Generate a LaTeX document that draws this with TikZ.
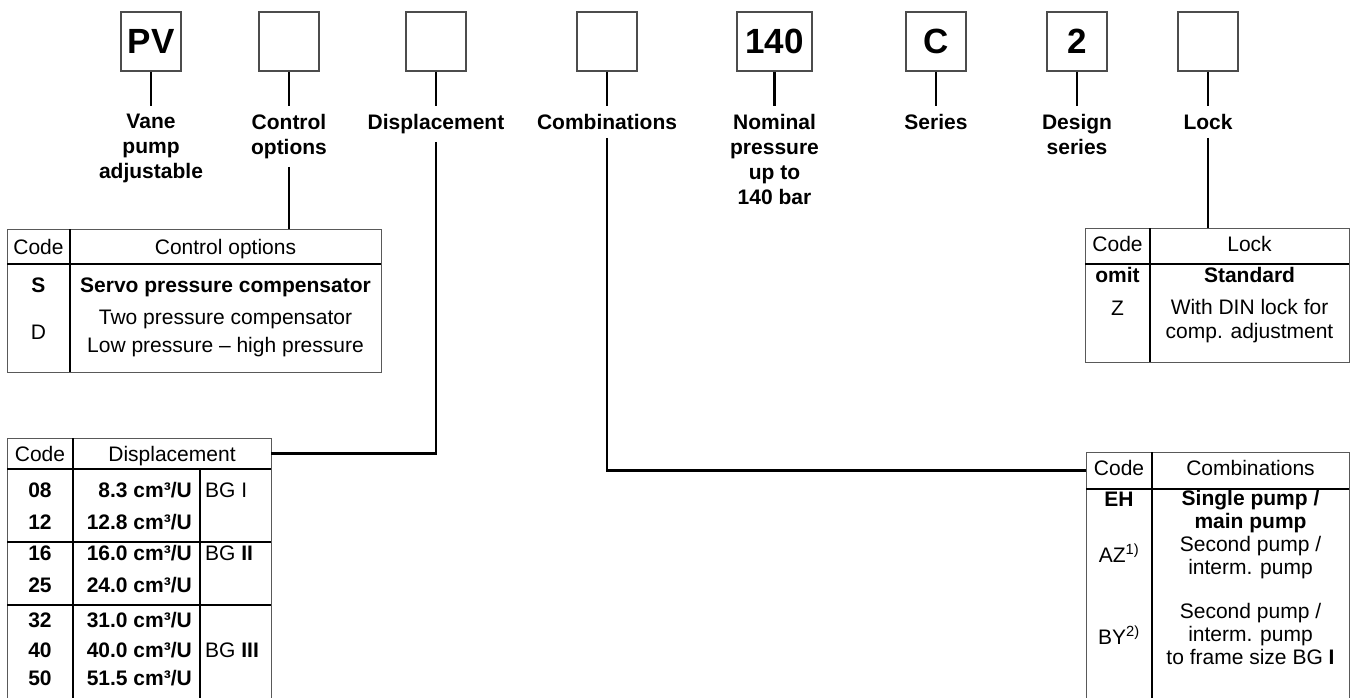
\documentclass[tikz,border=0pt]{standalone}
\usepackage{fontspec}
\setmainfont{Liberation Sans}

\tikzset{
  codebox/.style={draw=black!70, line width=1.3pt, minimum width=60pt, minimum height=59pt,
    inner sep=0pt, font=\bfseries\fontsize{35}{35}\selectfont},
  caption/.style={anchor=north, align=center, inner xsep=0pt, inner ysep=8pt,
    font=\bfseries\fontsize{21}{25}\selectfont},
  link/.style={line width=2.3pt},
  frame/.style={draw=black!65, line width=1.2pt, inner sep=0pt, anchor=north west},
  rule/.style={line width=2pt},
  cell/.style={inner sep=0pt, text height=15pt, text depth=0pt, font=\fontsize{21}{28}\selectfont},
  bcell/.style={cell, font=\bfseries\fontsize{21}{28}\selectfont},
  note/.style={inner sep=0pt, align=center, font=\fontsize{21}{28}\selectfont},
}

\begin{document}
\begin{tikzpicture}[x=1pt, y=-1pt]
\useasboundingbox (0,0) rectangle (1351,698);

% type code boxes
\foreach \n/\x/\w/\txt/\lbl in {PV/151/60/PV/{Vane\\pump\\adjustable},
    Ctrl/289/60/{}/{Control\\options},
    Disp/436/60/{}/Displacement,
    Comb/607/60/{}/Combinations,
    Pres/774.5/75/140/{Nominal\\pressure\\up to\\140 bar},
    Ser/936/60/C/Series,
    Des/1077/60/2/{Design\\series},
    Lock/1208/60/{}/Lock}
{
  \node[codebox, minimum width=\w pt] (b\n) at (\x,41.5) {\txt};
  \node[caption] (c\n) at (\x,106) {\lbl};
  \draw[link] (b\n) -- (c\n);
}

% control options
\node[frame, minimum width=374pt, minimum height=143pt] (tCtrl) at (7,229) {};
\draw[rule] (7,264) -- (381,264) (70,229) -- (70,372);
\node[cell] (ctrlCode) at (38.5,247) {Code};
\node[cell] (ctrlHead) at (225.5,247) {Control options};
\node[bcell] (ctrlS) at (38.5,285) {S};
\node[bcell] (ctrlSt) at (225.5,285) {Servo pressure compensator};
\node[cell] (ctrlD) at (38.5,332) {D};
\node[note] (ctrlDt) at (225.5,333) {Two pressure compensator\\Low pressure -- high pressure};

% lock
\node[frame, minimum width=264pt, minimum height=134pt] (tLock) at (1085,228) {};
\draw[rule] (1085,264) -- (1349,264) (1150,228) -- (1150,362);
\node[cell] (lockCode) at (1117.5,244) {Code};
\node[cell] (lockHead) at (1249.5,244) {Lock};
\node[bcell] (lockO) at (1117.5,275) {omit};
\node[bcell] (lockOt) at (1249.5,275) {Standard};
\node[cell] (lockZ) at (1117.5,308) {Z};
\node[note, font=\fontsize{21}{24}\selectfont] (lockZt) at (1249.5,321) {With DIN lock for\\comp. adjustment};

% displacement
\node[frame, minimum width=264pt, minimum height=280pt] (tDisp) at (7,438) {};
\draw[rule] (7,469) -- (271,469) (73,438) -- (73,710) (200,469) -- (200,710);
\draw[rule] (7,542) -- (271,542) (7,605) -- (271,605);
\node[cell] (dispCode) at (40,453.5) {Code};
\node[cell] (dispHead) at (172,453.5) {Displacement};
\foreach \cd/\vl/\yy in {08/8.3/490, 12/12.8/522, 16/16.0/553, 25/24.0/585,
                         32/31.0/620, 40/40.0/650, 50/51.5/678}
{
  \node[bcell] (disp\cd) at (40,\yy) {\cd};
  \node[bcell, anchor=east] (vol\cd) at (192,\yy) {\vl\ cm³/U};
}
\node[cell, anchor=west] (bgA) at (205,490) {BG I};
\node[cell, anchor=west] (bgB) at (205,553) {BG \textbf{II}};
\node[cell, anchor=west] (bgC) at (205,650) {BG \textbf{III}};

% combinations
\node[frame, minimum width=263pt, minimum height=260pt] (tComb) at (1086,452) {};
\draw[rule] (1086,489) -- (1349,489) (1152,452) -- (1152,710);
\node[cell] (combCode) at (1119,468) {Code};
\node[cell] (combHead) at (1250.5,468) {Combinations};
\node[bcell] (combEH) at (1119,499) {EH};
\node[note, font=\bfseries\fontsize{21}{23}\selectfont] (combEHt) at (1250.5,512) {Single pump /\\main pump};
\node[cell] (combAZ) at (1119,555) {AZ\textsuperscript{1)}};
\node[note, font=\fontsize{21}{23}\selectfont] (combAZt) at (1250.5,558) {Second pump /\\interm. pump};
\node[cell] (combBY) at (1119,637) {BY\textsuperscript{2)}};
\node[note, font=\fontsize{21}{23}\selectfont] (combBYt) at (1250.5,634)
  {Second pump /\\interm. pump\\to frame size BG \textbf{I}};

% hooks to the tables
\coordinate (dispHook) at (271,453.5);
\coordinate (combHook) at (1086,470.5);
\draw[link] (cCtrl) -- (cCtrl |- tCtrl.north);
\draw[link] (cDisp) |- (dispHook);
\draw[link] (cComb) |- (combHook);
\draw[link] (cLock) -- (cLock |- tLock.north);
\end{tikzpicture}
\end{document}
